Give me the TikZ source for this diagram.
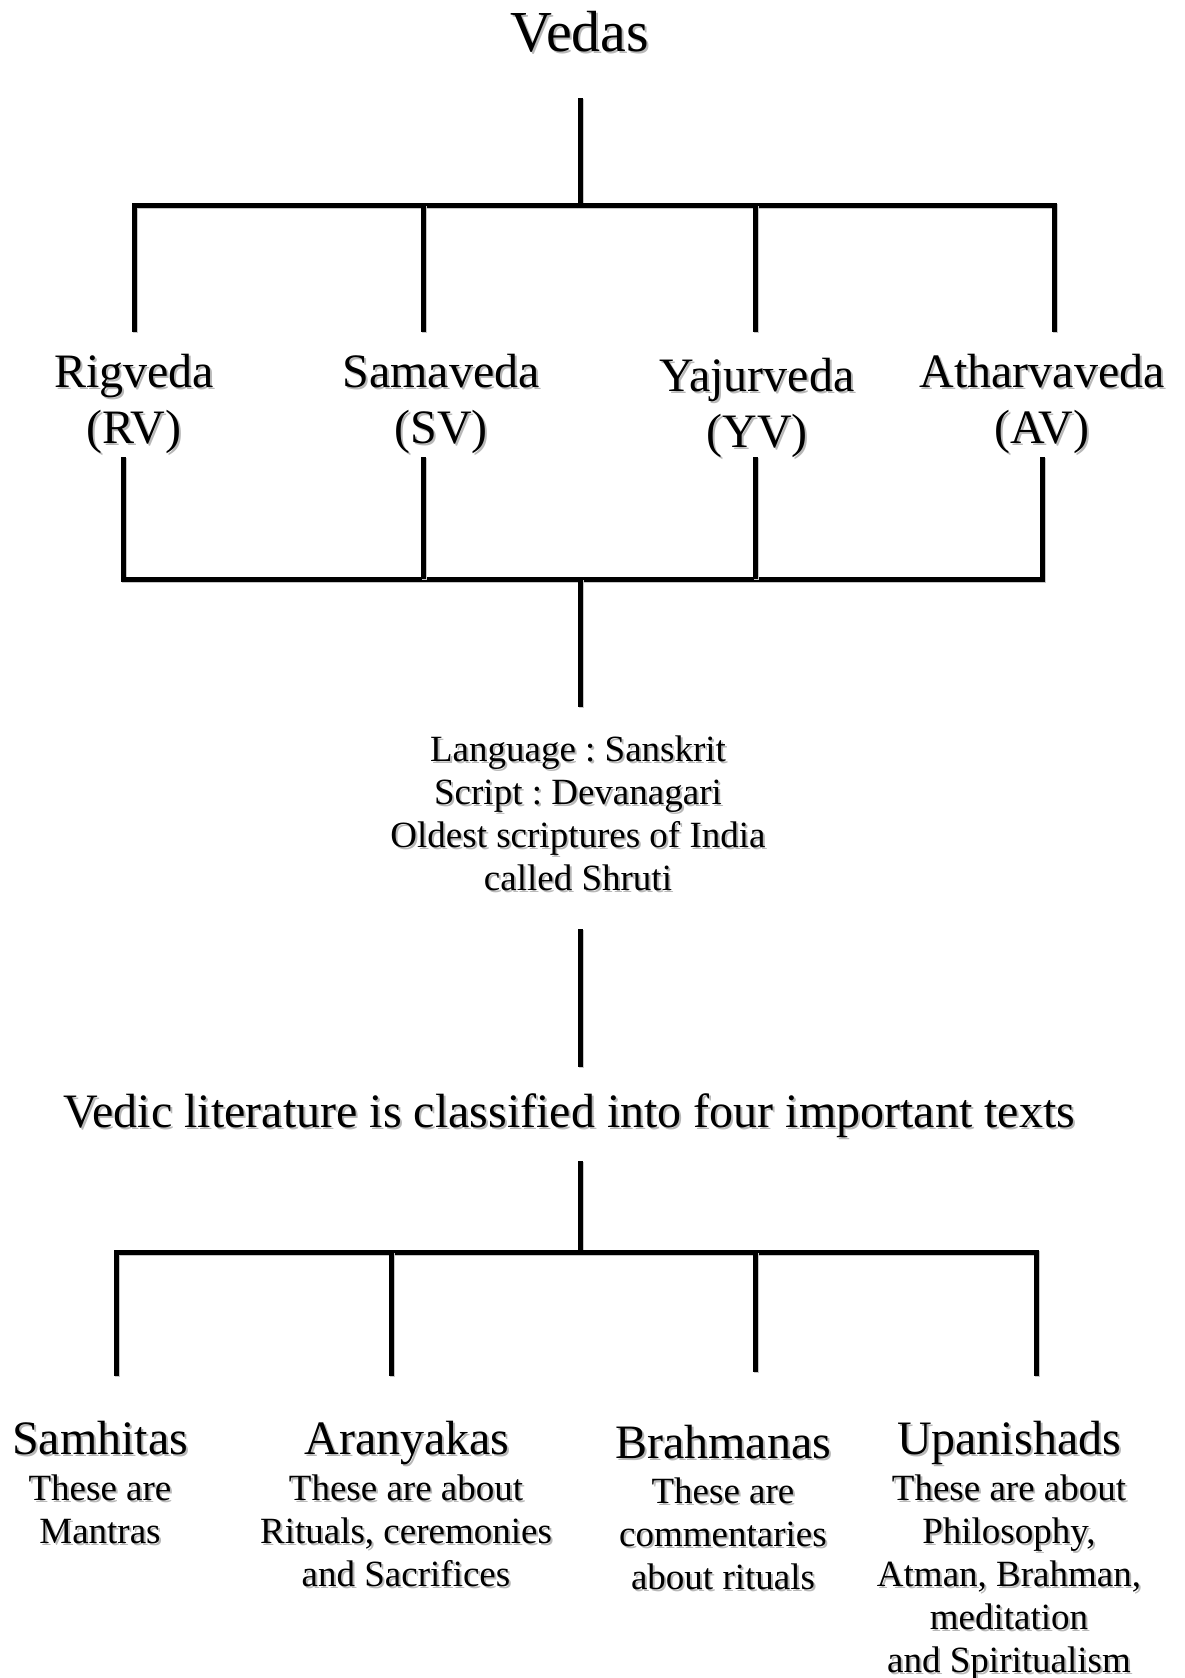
\documentclass[tikz,border=0pt]{standalone}
\usepackage{fontspec}
\setmainfont{Liberation Serif}
\frenchspacing
% text with a soft grey drop shadow behind it
\newcommand\shd[1]{\leavevmode\rlap{\kern2pt\raisebox{-2pt}{\textcolor{black!28}{#1}}}#1}
\tikzset{
  conn/.style={line width=5pt, black, line join=miter,
    preaction={draw=black!22, line width=5pt, transform canvas={shift={(1.2pt,-1.2pt)}}}},
  huge/.style={inner sep=0pt, anchor=base, font=\fontsize{58}{66}\selectfont},
  title/.style={inner sep=0pt, anchor=base, align=center, font=\fontsize{48}{56}\selectfont},
  body/.style={inner sep=0pt, anchor=base, align=center, font=\fontsize{37}{43}\selectfont},
}
\begin{document}
\begin{tikzpicture}[x=1pt, y=-1pt]
\useasboundingbox (0,0) rectangle (1184,1678);

% root (nodes are placed by the baseline of their last line)
\node[huge] (vedas) at (580,52) {\shd{Vedas}};

% the four Vedas
\node[title] (rv) at (134,443) {\shd{Rigveda}\\\shd{(RV)}};
\node[title] (sv) at (441,443) {\shd{Samaveda}\\\shd{(SV)}};
\node[title] (yv) at (757,447) {\shd{Yajurveda}\\\shd{(YV)}};
\node[title] (av) at (1042,443) {\shd{Atharvaveda}\\\shd{(AV)}};

% common facts
\node[body] (facts) at (578,890) {\shd{Language : Sanskrit}\\\shd{Script : Devanagari}\\\shd{Oldest scriptures of India}\\\shd{called Shruti}};

\node[title] (lit) at (569,1127) {\shd{Vedic literature is classified into four important texts}};

% the four classes of texts
\node[title] (sam) at (100,1454) {\shd{Samhitas}};
\node[title] (ara) at (407,1454) {\shd{Aranyakas}};
\node[title] (bra) at (723,1458) {\shd{Brahmanas}};
\node[title] (upa) at (1009,1454) {\shd{Upanishads}};

\node[body] (samd) at (100,1543) {\shd{These are}\\\shd{Mantras}};
\node[body] (arad) at (406,1586) {\shd{These are about}\\\shd{Rituals, ceremonies}\\\shd{and Sacrifices}};
\node[body] (brad) at (723,1589) {\shd{These are}\\\shd{commentaries}\\\shd{about rituals}};
\node[body] (upad) at (1009,1672) {\shd{These are about}\\\shd{Philosophy,}\\\shd{Atman, Brahman,}\\\shd{meditation}\\\shd{and Spiritualism}};

% connector end points
\coordinate (v0) at (580,98);
\coordinate (v1) at (580,205);
\coordinate (a1) at (134,332); \coordinate (a1t) at (134,205);
\coordinate (a2) at (423,332); \coordinate (a2t) at (423,205);
\coordinate (a3) at (755,332); \coordinate (a3t) at (755,205);
\coordinate (a4) at (1054,332); \coordinate (a4t) at (1054,205);

\coordinate (b1) at (123,457); \coordinate (b1t) at (123,579);
\coordinate (b2) at (423,457); \coordinate (b2t) at (423,579);
\coordinate (b3) at (755,457); \coordinate (b3t) at (755,579);
\coordinate (b4) at (1042,457); \coordinate (b4t) at (1042,579);
\coordinate (m0) at (580,579);
\coordinate (m1) at (580,707);
\coordinate (m2) at (580,929);
\coordinate (m3) at (580,1067);

\coordinate (n0) at (580,1161);
\coordinate (n1) at (580,1252);
\coordinate (c1) at (116,1376); \coordinate (c1t) at (116,1252);
\coordinate (c2) at (391,1376); \coordinate (c2t) at (391,1252);
\coordinate (c3) at (755,1372); \coordinate (c3t) at (755,1252);
\coordinate (c4) at (1036,1376); \coordinate (c4t) at (1036,1252);

% Vedas -> four Vedas
\draw[conn] (v0) -- (v1);
\draw[conn] (a1) -- (a1t) -- (a4t) -- (a4);
\draw[conn] (a2t) -- (a2);
\draw[conn] (a3t) -- (a3);

% four Vedas -> facts
\draw[conn] (b1) -- (b1t) -- (b4t) -- (b4);
\draw[conn] (b2) -- (b2t);
\draw[conn] (b3) -- (b3t);
\draw[conn] (m0) -- (m1);
\draw[conn] (m2) -- (m3);

% literature -> four classes
\draw[conn] (n0) -- (n1);
\draw[conn] (c1) -- (c1t) -- (c4t) -- (c4);
\draw[conn] (c2t) -- (c2);
\draw[conn] (c3t) -- (c3);
\end{tikzpicture}
\end{document}
